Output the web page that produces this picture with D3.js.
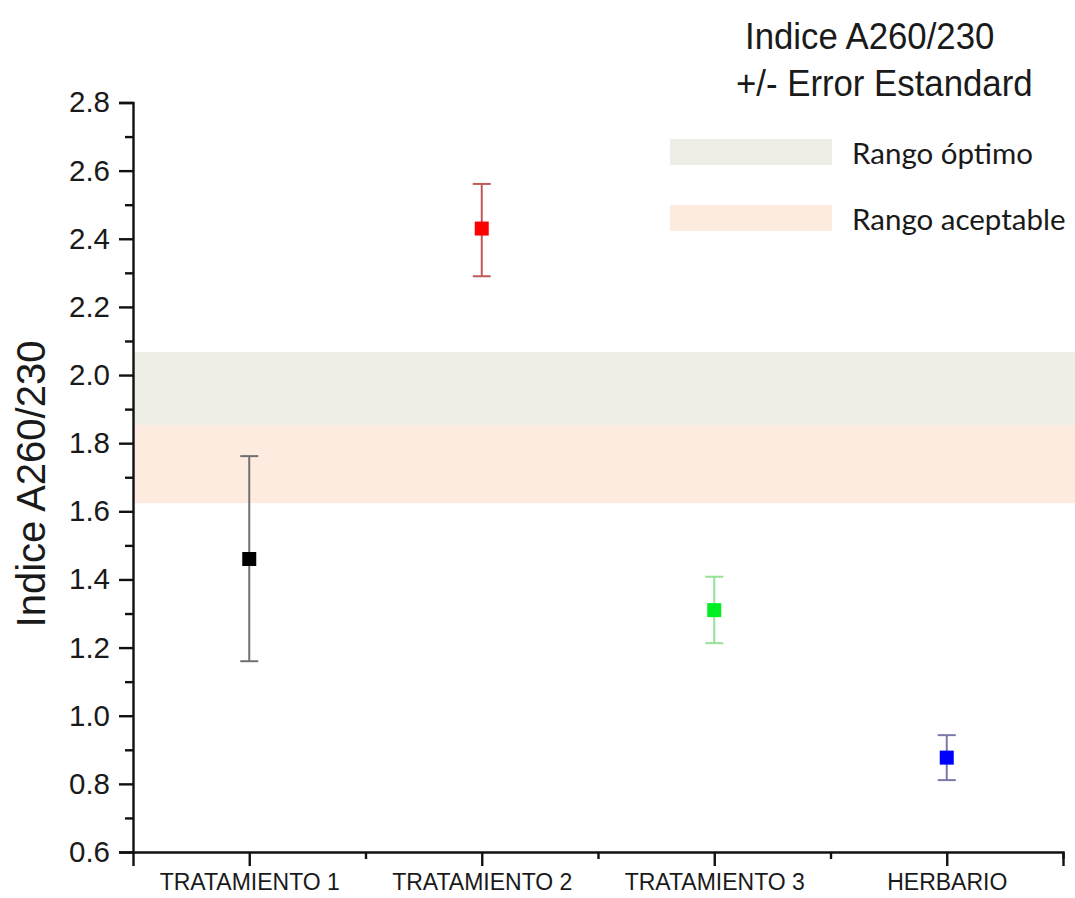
<!DOCTYPE html>
<html>
<head>
<meta charset="utf-8">
<script src="https://cdn.jsdelivr.net/npm/d3@7"></script>
<style>
  html, body { margin: 0; padding: 0; background: #fff; }
  svg { display: block; }
</style>
</head>
<body>
<svg id="chart" width="1075" height="898"></svg>
<script>
// ---- data ----
const categories = ["TRATAMIENTO 1", "TRATAMIENTO 2", "TRATAMIENTO 3", "HERBARIO"];
const means = [1.46, 2.43, 1.31, 0.877];
const lowers = [1.16, 2.29, 1.213, 0.811];
const uppers = [1.762, 2.561, 1.408, 0.943];
const markerColors = ["#000000", "#ff0000", "#00ee22", "#0000ff"];
const barColors = ["#707070", "#c05a5a", "#99e099", "#7a7aaa"];
const yTicks = [0.6, 0.8, 1.0, 1.2, 1.4, 1.6, 1.8, 2.0, 2.2, 2.4, 2.6, 2.8];
const yMinorTicks = [0.7, 0.9, 1.1, 1.3, 1.5, 1.7, 1.9, 2.1, 2.3, 2.5, 2.7];
const bandNames = ["Rango óptimo", "Rango aceptable"];
const bandLow = [1.853, 1.624];
const bandHigh = [2.068, 1.853];
const bandColors = ["#eeeee6", "#fdebe0"];
const titleLines = ["Indice A260/230", "+/- Error Estandard"];
const yLabel = "Indice A260/230";

// ---- layout ----
const svg = d3.select("#chart");
const W = 1075;
const mLeft = 133, mRight = 1063, mTop = 102.5, mBottom = 852;

const y = d3.scaleLinear().domain([0.6, 2.8]).range([mBottom, mTop]);
const xPos = d3.scaleLinear().domain([0.5, 4.5]).range([mLeft, mRight]);
const x = (i) => xPos(i + 1);

// bands
svg.append("g").selectAll("rect").data(bandNames).join("rect")
  .attr("x", mLeft)
  .attr("width", W - mLeft)
  .attr("y", (d, i) => y(bandHigh[i]))
  .attr("height", (d, i) => y(bandLow[i]) - y(bandHigh[i]))
  .attr("fill", (d, i) => bandColors[i]);

// y axis major
const yAxis = d3.axisLeft(y).tickValues(yTicks).tickFormat(d3.format(".1f")).tickSize(14).tickPadding(9);
const gy = svg.append("g").attr("transform", `translate(${mLeft},0)`).call(yAxis);
gy.select(".domain").attr("stroke", "#111").attr("stroke-width", 2.4);
gy.selectAll(".tick line").attr("stroke", "#111").attr("stroke-width", 2.4);
gy.selectAll(".tick text").attr("font-family", "'Liberation Sans', Arial, sans-serif")
  .attr("font-size", 29.5).attr("fill", "#1a1a1a");
// y axis minor
const gym = svg.append("g").attr("transform", `translate(${mLeft},0)`)
  .call(d3.axisLeft(y).tickValues(yMinorTicks).tickFormat("").tickSize(8));
gym.select(".domain").remove();
gym.selectAll(".tick line").attr("stroke", "#111").attr("stroke-width", 2.4);

// x axis major
const xAxis = d3.axisBottom(xPos).tickValues([1, 2, 3, 4]).tickFormat((d) => categories[d - 1]).tickSize(14).tickPadding(8);
const gx = svg.append("g").attr("transform", `translate(0,${mBottom})`).call(xAxis);
gx.select(".domain").attr("stroke", "#111").attr("stroke-width", 2.4);
gx.selectAll(".tick line").attr("stroke", "#111").attr("stroke-width", 2.4);
gx.selectAll(".tick text").attr("font-family", "'Liberation Sans', Arial, sans-serif")
  .attr("font-size", 23).attr("fill", "#1a1a1a");
const gxm = svg.append("g").attr("transform", `translate(0,${mBottom})`)
  .call(d3.axisBottom(xPos).tickValues([1.5, 2.5, 3.5, 4.5]).tickFormat("").tickSize(7));
gxm.select(".domain").remove();
gxm.selectAll(".tick line").attr("stroke", "#111").attr("stroke-width", 2.4);

// y label
svg.append("text")
  .attr("transform", `translate(45,484) rotate(-90)`)
  .attr("text-anchor", "middle")
  .attr("font-family", "'Liberation Sans', Arial, sans-serif")
  .attr("font-size", 40)
  .attr("fill", "#1a1a1a")
  .text(yLabel);

// error bars
const capW = 18;
const eb = svg.append("g");
categories.forEach((c, i) => {
  const g = eb.append("g").attr("stroke", barColors[i]).attr("stroke-width", 2);
  g.append("line").attr("x1", x(i)).attr("x2", x(i)).attr("y1", y(uppers[i])).attr("y2", y(lowers[i]));
  g.append("line").attr("x1", x(i) - capW / 2).attr("x2", x(i) + capW / 2).attr("y1", y(uppers[i])).attr("y2", y(uppers[i]));
  g.append("line").attr("x1", x(i) - capW / 2).attr("x2", x(i) + capW / 2).attr("y1", y(lowers[i])).attr("y2", y(lowers[i]));
});

// markers
const ms = 14;
svg.append("g").selectAll("rect").data(means).join("rect")
  .attr("x", (d, i) => x(i) - ms / 2)
  .attr("y", (d) => y(d) - ms / 2)
  .attr("width", ms).attr("height", ms)
  .attr("fill", (d, i) => markerColors[i]);

// title
svg.append("g").selectAll("text").data(titleLines).join("text")
  .attr("transform", (d, i) => `translate(${i === 0 ? 745 : 736},${49 + i * 47}) scale(0.94,1)`)
  .attr("font-family", "'Liberation Sans', Arial, sans-serif")
  .attr("font-size", 37)
  .attr("fill", "#1a1a1a")
  .text((d) => d);

// legend
const lg = svg.append("g");
bandNames.forEach((n, i) => {
  lg.append("rect").attr("x", 670).attr("y", 139 + i * 66).attr("width", 162).attr("height", 26)
    .attr("fill", bandColors[i]);
  lg.append("text").attr("x", 852).attr("y", 164 + i * 66)
    .attr("font-family", "Lato, 'Open Sans', sans-serif")
    .attr("font-size", 29.5).attr("fill", "#1a1a1a").text(n);
});
</script>
</body>
</html>
